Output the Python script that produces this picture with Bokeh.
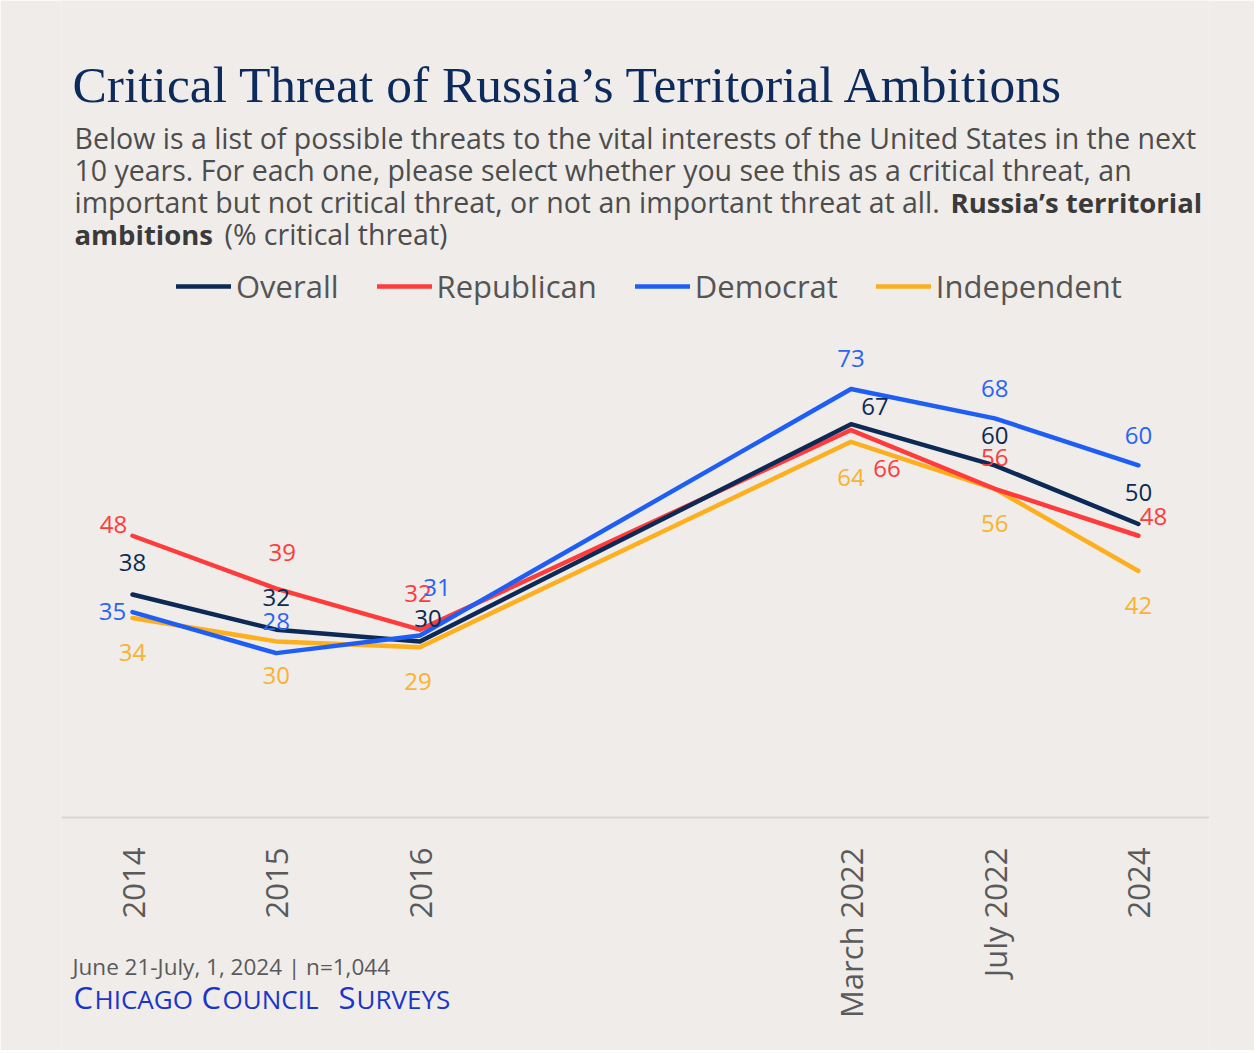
import math
from bokeh.plotting import figure
from bokeh.models import (ColumnDataSource, Range1d, FixedTicker, Label, Legend, LegendItem)
from bokeh.core.properties import value
from bokeh.embed import file_html
from bokeh.resources import INLINE

# ---------------- data ----------------
periods = ["2014", "2015", "2016", "March 2022", "July 2022", "2024"]
period_pos = [0, 1, 2, 5, 6, 7]

series_names = ["Overall", "Republican", "Democrat", "Independent"]
overall = [38, 32, 30, 67, 60, 50]
republican = [48, 39, 32, 66, 56, 48]
democrat = [35, 28, 31, 73, 68, 60]
independent = [34, 30, 29, 64, 56, 42]

title_text = "Critical Threat of Russia\u2019s Territorial Ambitions"
subtitle_lines = [
    "Below is a list of possible threats to the vital interests of the United States in the next",
    "10 years. For each one, please select whether you see this as a critical threat, an",
    "important but not critical threat, or not an important threat at all.",
]
subtitle_bold_3 = "Russia\u2019s territorial"
subtitle_bold_4 = "ambitions"
subtitle_tail_4 = "(% critical threat)"
footer_note = "June 21-July, 1, 2024 | n=1,044"
brand_parts = [("C", True), ("HICAGO", False), ("C", True), ("OUNCIL", False), ("S", True), ("URVEYS", False)]

# ---------------- styles ----------------
BG = "#EFECE9"
COLORS = {"Overall": "#0C2A55", "Republican": "#FF3B3B", "Democrat": "#1F5EF5", "Independent": "#FDAF1E"}
LABEL_COLORS = {"Overall": "#0C2A55", "Republican": "#FF3B3B", "Democrat": "#2A64F2", "Independent": "#F9B232"}
FONT = "Open Sans"

# label offsets in pixels (dx, dy; dy positive = down)
label_dx = {
    "Overall": [0, 0, 8, 24, 0, 0],
    "Republican": [-19, 6, -2, 36, 0, 15],
    "Democrat": [-20, 0, 17, 0, 0, 0],
    "Independent": [0, 0, -2, 0, 0, 0],
}
label_dy = {
    "Overall": [-32, -32, -23, -18, -30, -32],
    "Republican": [-11, -36, -36, 38, -31, -19],
    "Democrat": [-1, -32, -48, -30, -30, -30],
    "Independent": [35, 34, 34, 36, 35, 35],
}

W, H = 1254, 1050
ML, MR = 61, 45
PX_PER_UNIT = 5.87
ZERO_Y = 817          # canvas y of value 0
X0 = 132              # canvas x of first period
PX_PER_STEP = 143.7

x_start = -(X0 - ML) / PX_PER_STEP
x_end = (W - MR - X0) / PX_PER_STEP
y_start = -(H - ZERO_Y) / PX_PER_UNIT
y_end = ZERO_Y / PX_PER_UNIT

p = figure(width=W, height=H, output_backend="svg", toolbar_location=None,
           x_range=Range1d(x_start, x_end), y_range=Range1d(y_start, y_end),
           min_border_left=ML, min_border_right=MR, min_border_top=0, min_border_bottom=0,
           background_fill_color=BG, border_fill_color=BG, outline_line_color=None,
           y_axis_location=None)
p.xgrid.visible = False
p.ygrid.visible = False

ax = p.xaxis[0]
ax.fixed_location = 0
ax.ticker = FixedTicker(ticks=period_pos)
ax.major_label_overrides = {pos: lab for pos, lab in zip(period_pos, periods)}
ax.major_label_orientation = math.pi / 2
ax.major_tick_line_color = None
ax.minor_tick_line_color = None
ax.major_tick_out = 0
ax.major_tick_in = 0
ax.major_label_standoff = 30
ax.axis_line_color = "#D9D6D3"
ax.axis_line_width = 2
ax.major_label_text_font = FONT
ax.major_label_text_font_size = "31px"
ax.major_label_text_color = "#5A5A5A"

values = {"Overall": overall, "Republican": republican, "Democrat": democrat, "Independent": independent}

renderers = {}
for name in ["Independent", "Republican", "Overall", "Democrat"]:
    src = ColumnDataSource(dict(x=period_pos, y=values[name]))
    renderers[name] = p.line("x", "y", source=src, line_color=COLORS[name], line_width=4.5,
                             line_join="round", line_cap="round")

for name in series_names:
    src = ColumnDataSource(dict(x=period_pos, y=values[name], t=[str(v) for v in values[name]],
                                dx=label_dx[name], dy=label_dy[name]))
    p.text("x", "y", text="t", source=src, x_offset="dx", y_offset="dy",
           text_align="center", text_baseline="middle", text_font=value(FONT),
           text_font_size="24px", text_color=LABEL_COLORS[name])

legend = Legend(items=[LegendItem(label=n, renderers=[renderers[n]]) for n in series_names],
                orientation="horizontal", location=(176 - ML, H - 307),
                glyph_width=55, glyph_height=40, label_height=40, label_standoff=5, spacing=38,
                padding=0, margin=0, background_fill_alpha=0, border_line_alpha=0,
                label_text_font=FONT, label_text_font_size="31px", label_text_color="#555555",
                label_text_baseline="middle")
p.add_layout(legend, "center")

BASELINE_FIX = 0.375  # empirical shift of rendered baseline (fraction of font size)


def lab(text, rx, ry, size, color, font=FONT, style="normal"):
    p.add_layout(Label(x=rx - ML, y=H - (ry - BASELINE_FIX * size), x_units="screen", y_units="screen",
                       text=text, text_font=font, text_font_size=f"{size}px", text_color=color,
                       text_font_style=style, text_align="left", text_baseline="alphabetic"))


lab(title_text, 72, 103, 51.5, "#0C2B5C", font="Liberation Serif")
for i, line in enumerate(subtitle_lines):
    lab(line, 74, 148 + 32 * i, 28.5, "#4D4D4D")
lab(subtitle_bold_3, 950, 212, 27.5, "#3A3A3A", style="bold")
lab(subtitle_bold_4, 74, 244, 27.5, "#3A3A3A", style="bold")
lab(subtitle_tail_4, 224, 244, 28.5, "#4D4D4D")

lab(footer_note, 72, 974, 22.5, "#5A5A5A")
brand_x = [73, 94, 201, 222, 338, 356]
for (txt, big), bx in zip(brand_parts, brand_x):
    lab(txt, bx, 1008, 31 if big else 26, "#1A36C9")

open("out.html", "w").write(file_html(p, INLINE))
